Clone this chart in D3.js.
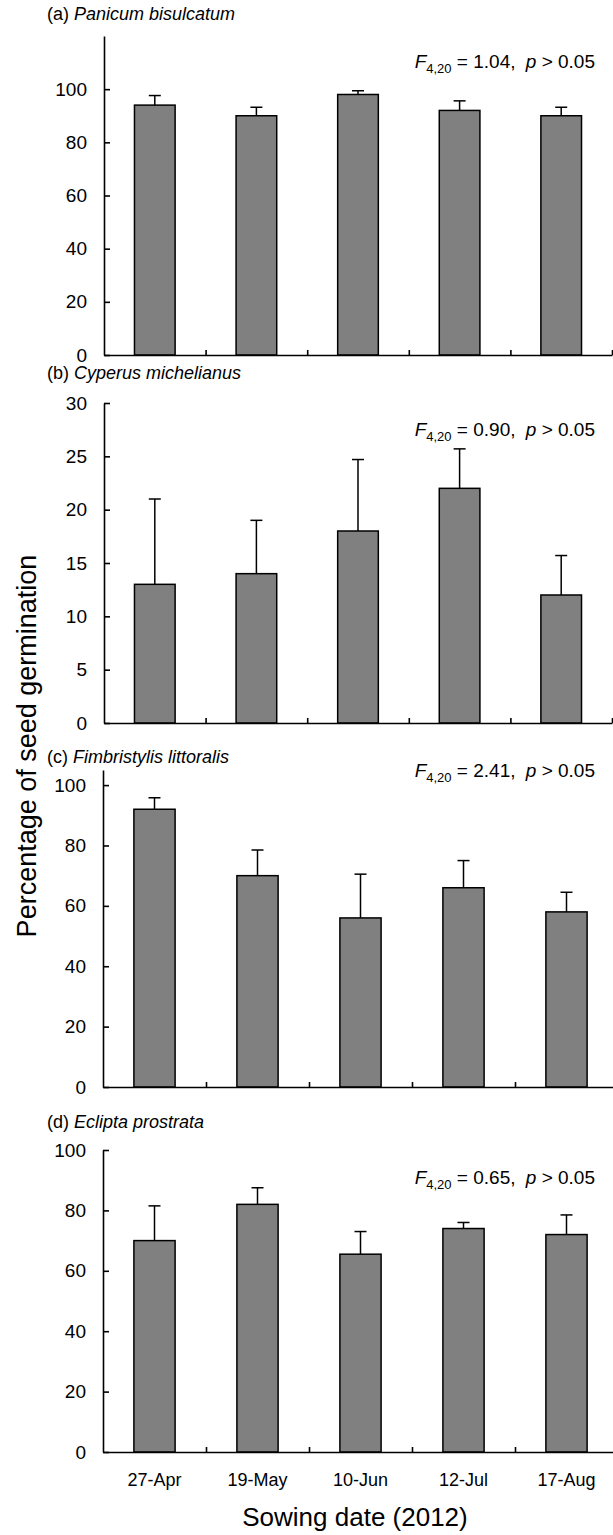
<!DOCTYPE html>
<html>
<head>
<meta charset="utf-8">
<script src="https://cdn.jsdelivr.net/npm/d3@7"></script>
<style>
  body { margin: 0; background: #fff; }
  text { font-family: "Liberation Sans", Arial, sans-serif; fill: #000; }
  .axis path, .axis line { stroke: #000; stroke-width: 1.6px; }
</style>
</head>
<body>
<svg width="613" height="1535"></svg>
<script>

// sowing dates (x categories)
var dates = ["27-Apr", "19-May", "10-Jun", "12-Jul", "17-Aug"];
var letters = ["(a)", "(b)", "(c)", "(d)"];
var species = ["Panicum bisulcatum", "Cyperus michelianus", "Fimbristylis littoralis", "Eclipta prostrata"];

// mean germination (%) and SE for each species
var meanA = [94, 90, 98, 92, 90],   errA = [3.6, 3.2, 1.4, 3.6, 3.2];
var meanB = [13, 14, 18, 22, 12],   errB = [8, 5, 6.7, 3.7, 3.7];
var meanC = [92, 70, 56, 66, 58],   errC = [3.8, 8.5, 14.5, 9, 6.5];
var meanD = [70, 82, 65.5, 74, 72], errD = [11.5, 5.5, 7.5, 2, 6.5];

// ANOVA results
var fValues = ["1.04", "0.90", "2.41", "0.65"];

// y axis extent and tick labels
var yMax = [120, 30, 105, 100];
var yTicks = [[0, 20, 40, 60, 80, 100], [0, 5, 10, 15, 20, 25, 30], [0, 20, 40, 60, 80, 100], [0, 20, 40, 60, 80, 100]];

var means = [meanA, meanB, meanC, meanD],
    errs = [errA, errB, errC, errD];

var layout = [
  {top: 36,   bottom: 355,  x0: 104, x1: 612, titleY: 20,   statY: 68},
  {top: 403,  bottom: 723,  x0: 104, x1: 612, titleY: 379,  statY: 436},
  {top: 770,  bottom: 1087, x0: 103, x1: 618, titleY: 763,  statY: 777},
  {top: 1150, bottom: 1452, x0: 103, x1: 618, titleY: 1128, statY: 1184}
];

var svg = d3.select("svg");

layout.forEach(function(L, i) {
  var g = svg.append("g");

  var x = d3.scaleBand()
      .domain(dates)
      .range([L.x0, L.x1])
      .paddingInner(0.6)
      .paddingOuter(0.3);

  var xb = d3.scaleLinear()
      .domain([0, dates.length])
      .range([L.x0, L.x1]);

  var y = d3.scaleLinear()
      .domain([0, yMax[i]])
      .range([L.bottom, L.top]);

  var data = dates.map(function(d, k) { return {date: d, m: means[i][k], e: errs[i][k]}; });

  // error bars (upper half only)
  g.selectAll(".err")
    .data(data)
    .enter().append("line")
      .attr("x1", function(d) { return x(d.date) + x.bandwidth() / 2; })
      .attr("x2", function(d) { return x(d.date) + x.bandwidth() / 2; })
      .attr("y1", function(d) { return y(d.m); })
      .attr("y2", function(d) { return y(d.m + d.e); })
      .attr("stroke", "#000")
      .attr("stroke-width", 1.5);

  g.selectAll(".cap")
    .data(data)
    .enter().append("line")
      .attr("x1", function(d) { return x(d.date) + x.bandwidth() / 2 - 6; })
      .attr("x2", function(d) { return x(d.date) + x.bandwidth() / 2 + 6; })
      .attr("y1", function(d) { return y(d.m + d.e); })
      .attr("y2", function(d) { return y(d.m + d.e); })
      .attr("stroke", "#000")
      .attr("stroke-width", 1.5);

  g.selectAll(".bar")
    .data(data)
    .enter().append("rect")
      .attr("x", function(d) { return x(d.date); })
      .attr("y", function(d) { return y(d.m); })
      .attr("width", x.bandwidth())
      .attr("height", function(d) { return y(0) - y(d.m); })
      .attr("fill", "#808080")
      .attr("stroke", "#000")
      .attr("stroke-width", 1.5);

  g.append("g")
      .attr("class", "axis")
      .attr("transform", "translate(0," + L.bottom + ")")
      .call(d3.axisBottom(xb).tickValues([1, 2, 3, 4, 5]).tickSizeInner(-5).tickSizeOuter(0).tickFormat(""));

  g.append("g")
      .attr("class", "axis")
      .attr("transform", "translate(" + L.x0 + ",0)")
      .call(d3.axisLeft(y).tickValues(yTicks[i]).tickSizeInner(-6).tickSizeOuter(0).tickPadding(17))
    .selectAll("text")
      .style("font-size", "19px");

  var t = g.append("text")
      .attr("x", 47)
      .attr("y", L.titleY)
      .style("font-size", "18px");
  t.append("tspan").text(letters[i] + " ");
  t.append("tspan").style("font-style", "italic").text(species[i]);

  var s = g.append("text")
      .attr("x", 595)
      .attr("y", L.statY)
      .attr("text-anchor", "end")
      .style("font-size", "19px");
  s.append("tspan").style("font-style", "italic").text("F");
  s.append("tspan").attr("dy", 5).style("font-size", "13px").text("4,20");
  s.append("tspan").attr("dy", -5).text(" = " + fValues[i] + ", ");
  s.append("tspan").attr("dx", 5).style("font-style", "italic").text("p");
  s.append("tspan").text(" > 0.05");

  if (i === 3) {
    g.selectAll(".xlab")
      .data(dates)
      .enter().append("text")
        .attr("x", function(d) { return x(d) + x.bandwidth() / 2; })
        .attr("y", L.bottom + 34)
        .attr("text-anchor", "middle")
        .style("font-size", "18px")
        .text(function(d) { return d; });
  }
});

svg.append("text")
    .attr("x", 355)
    .attr("y", 1526)
    .attr("text-anchor", "middle")
    .style("font-size", "26px")
    .text("Sowing date (2012)");

svg.append("text")
    .attr("transform", "translate(36,746) rotate(-90)")
    .attr("text-anchor", "middle")
    .style("font-size", "27px")
    .text("Percentage of seed germination");

</script>
</body>
</html>
